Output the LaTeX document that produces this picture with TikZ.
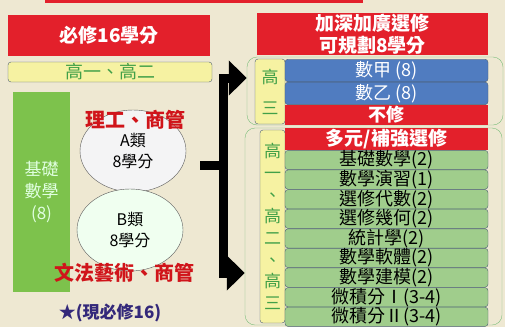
\documentclass[tikz,border=0pt]{standalone}
\usepackage{fontspec}
\setmainfont{Noto Sans CJK TC}
\usetikzlibrary{positioning,arrows.meta,shapes.geometric}
\definecolor{paper}{HTML}{EEE8D2}
\definecolor{hdred}{HTML}{E3202B}
\definecolor{rowgreen}{HTML}{A0CD8C}
\definecolor{rowblue}{HTML}{507CC0}
\definecolor{pale}{HTML}{F6F2A2}
\definecolor{leafgreen}{HTML}{7DC24C}
\definecolor{edge}{HTML}{4B5F73}
\definecolor{txtgreen}{HTML}{41A048}
\definecolor{grpgreen}{HTML}{7BBE7B}
\definecolor{dkred}{HTML}{D0141A}
\definecolor{navy}{HTML}{33287A}

\begin{document}
\begin{tikzpicture}
  [
    x = 1pt,
    y = -1pt,
    every node/.style = {
      inner sep = 0pt,
      align = center,
    },
    header/.style = {
      fill = hdred,
      text = white,
      font = \bfseries\fontsize{19}{22}\selectfont,
    },
    grade/.style = {
      draw = edge,
      fill = pale,
      rounded corners = 3pt,
      text = txtgreen,
      font = \fontsize{17}{21.7}\selectfont,
    },
    course/.style = {
      draw = edge,
      fill = rowgreen,
      rounded corners = 3pt,
      minimum width = 203pt,
      minimum height = 19.2pt,
      font = \fontsize{18}{18}\selectfont,
    },
    track/.style = {
      draw = edge,
      fill = rowblue,
      rounded corners = 3pt,
      text = white,
      minimum width = 203pt,
      minimum height = 22.5pt,
      font = \fontsize{18}{18}\selectfont,
    },
    group/.style = {
      draw = grpgreen,
      rounded corners = 10pt,
    },
    bubble/.style = {
      ellipse,
      draw = gray!70!black,
      thin,
      minimum width = 106pt,
      minimum height = 82pt,
      font = \fontsize{16}{21}\selectfont,
    },
    tag/.style = {
      text = dkred,
      font = \bfseries\fontsize{20}{20}\selectfont,
    },
    trunk/.style = {
      line width = 9pt,
      line join = miter,
    },
    > = {Triangle[length=18pt,width=34pt]},
  ]

  \fill [paper] (0,0) rectangle (505,327);
  \useasboundingbox (0,0) rectangle (505,327);
  \fill [hdred] (45,0) rectangle (363,2.5);

  % left column
  \node (req) [header, minimum width=202pt, minimum height=41pt] at (109,35.5) {必修16學分};
  \node (grade12) [grade, minimum width=204pt, minimum height=20pt, font=\fontsize{18}{18}\selectfont] at (110,72) {高一、高二};
  \node (basic) [fill=leafgreen, text=white!88!green, minimum width=57pt, minimum height=200pt, font=\fontsize{17}{22}\selectfont] at (41.5,192) {基礎\\數學\\(8)};

  \node (typeA) [bubble, fill=blue!3!gray!8!white] at (133,151) {A類\\8學分};
  \node (typeB) [bubble, fill=green!6!white] at (130,230) {B類\\8學分};
  \node (sci) [tag] at (135,120) {理工、商管};
  \node (arts) [tag] at (124,273) {文法藝術、商管};
  \node (now) [text=navy, font=\bfseries\fontsize{17}{17}\selectfont] at (110,313) {★(現必修16)};

  % right column
  \node (deep) [header, minimum width=231pt, minimum height=42pt] at (372.5,34) {加深加廣選修\\可規劃8學分};

  \node (grp3) [group, minimum width=256pt, minimum height=68pt] at (375,91) {};
  \node (g3) [grade, minimum width=30pt, minimum height=65pt, font=\fontsize{17}{31}\selectfont] at (270,91.5) {高\\三};
  \node (ja) [track] at (386.5,70.5) {數甲 (8)};
  \node (yi) [track, below = 0pt of ja] {數乙 (8)};
  \node (skip) [header, minimum width=203pt, minimum height=19.5pt, font=\bfseries\fontsize{18}{18}\selectfont, below = 0pt of yi] {不修};

  \node (grp123) [group, minimum width=257pt, minimum height=197pt] at (373.5,226.5) {};
  \node (g123) [grade, minimum width=25pt, minimum height=193pt] at (272.5,226.5) {高\\一\\、\\高\\二\\、\\高\\三};
  \node (multi) [header, minimum width=203pt, minimum height=22pt] at (386.5,139) {多元/補強選修};
  \node (c1) [course, below = 0pt of multi] {基礎數學(2)};
  \foreach \txt [count=\i from 2, remember=\i as \last (initially 1)] in
    {數學演習(1), 選修代數(2), 選修幾何(2), 統計學(2), 數學軟體(2), 數學建模(2), 微積分Ⅰ(3-4), 微積分Ⅱ(3-4)}
    {\node (c\i) [course, below = 0pt of c\last] {\txt};}

  % arrows
  \coordinate (stub) at (200,165);
  \coordinate (split) at (223,165);
  \draw [trunk] (stub) -- (split);
  \draw [trunk,->] (split) |- ([yshift=13pt] grp3.west);
  \draw [trunk,->] (split) |- ([yshift=-46.5pt] grp123.west);

\end{tikzpicture}
\end{document}
